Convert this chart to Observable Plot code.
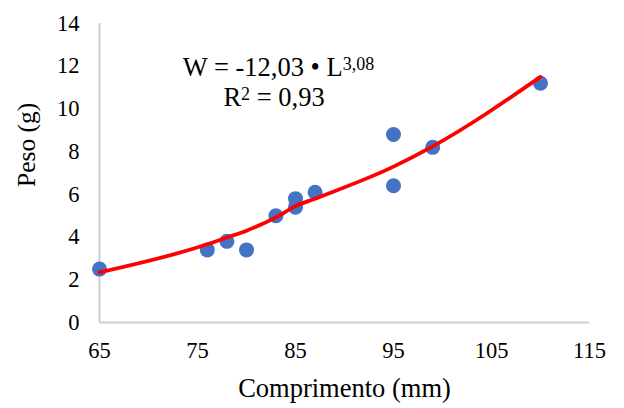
<!DOCTYPE html>
<html>
<head>
<meta charset="utf-8">
<script src="https://cdn.jsdelivr.net/npm/d3@7"></script>
<script src="https://cdn.jsdelivr.net/npm/@observablehq/plot@0.6"></script>
<style>
  html, body { margin: 0; padding: 0; background: #fff; }
  #chart { width: 624px; height: 408px; }
</style>
</head>
<body>
<div id="chart"></div>
<script>
// Observed data
const comprimento = [65, 76, 78, 80, 83, 85, 85, 87, 95, 95, 99, 110];
const peso =        [2.5, 3.4, 3.8, 3.4, 5.0, 5.4, 5.8, 6.1, 8.8, 6.4, 8.2, 11.2];

// Trend line
const trendX = [65, 76, 78, 80, 83, 85, 87, 95, 99, 110];
const trendY = [2.35, 3.66, 3.98, 4.3, 4.92, 5.45, 5.8, 7.3, 8.25, 11.5];

const xTicks = [65, 75, 85, 95, 105, 115];
const yTicks = [0, 2, 4, 6, 8, 10, 12, 14];

const equationMain = "W = -12,03 • L";
const equationExp = "3,08";
const r2Main = "R";
const r2Exp = "2";
const r2Rest = " = 0,93";
const xTitle = "Comprimento (mm)";
const yTitle = "Peso (g)";

const points = comprimento.map((x, i) => ({x, y: peso[i]}));
const trend = trendX.map((x, i) => ({x, y: trendY[i]}));

const serif = "Liberation Serif";

const chart = Plot.plot({
  width: 624,
  height: 408,
  marginLeft: 99,
  marginRight: 35,
  marginTop: 23,
  marginBottom: 86,
  style: "font-family: 'Liberation Serif', serif; font-size: 22.5px; color: #000; background: #fff;",
  x: {domain: [65, 115], ticks: xTicks, tickSize: 0, tickPadding: 20, label: null},
  y: {domain: [0, 14], ticks: yTicks, tickSize: 0, tickPadding: 20, label: null},
  marks: [
    Plot.ruleX([65], {stroke: "#d0d0d0", strokeWidth: 2}),
    Plot.ruleY([0], {stroke: "#d0d0d0", strokeWidth: 2}),
    Plot.dot(points, {x: "x", y: "y", r: 7.5, fill: "#4472C4", stroke: "none"}),
    Plot.line(trend, {x: "x", y: "y", stroke: "#FF0000", strokeWidth: 3.75, curve: "monotone-x"}),
    Plot.text([equationMain], {frameAnchor: "top-left", dx: 179, dy: 52, text: d => d, fontSize: 26.5, textAnchor: "middle", lineAnchor: "bottom"}),
    Plot.text([r2Main], {frameAnchor: "top-left", dx: 174.5, dy: 82, text: d => d, fontSize: 26.5, textAnchor: "middle", lineAnchor: "bottom"}),
    Plot.text([xTitle], {frameAnchor: "bottom", dy: 74.7, text: d => d, fontSize: 26.5, lineAnchor: "bottom"}),
    Plot.text([yTitle], {frameAnchor: "left", dx: -65, dy: 14, text: d => d, fontSize: 25.5, rotate: -90, lineAnchor: "bottom"})
  ]
});

// add superscripts
d3.select(chart).selectAll("text").each(function() {
  if (this.textContent === equationMain) {
    d3.select(this).append("tspan").attr("dy", -6).attr("font-size", 18).text(equationExp);
  } else if (this.textContent === r2Main) {
    d3.select(this).append("tspan").attr("dy", -6).attr("font-size", 18).text(r2Exp);
    d3.select(this).append("tspan").attr("dy", 6).text(r2Rest);
  }
});

document.getElementById("chart").appendChild(chart);
</script>
</body>
</html>
